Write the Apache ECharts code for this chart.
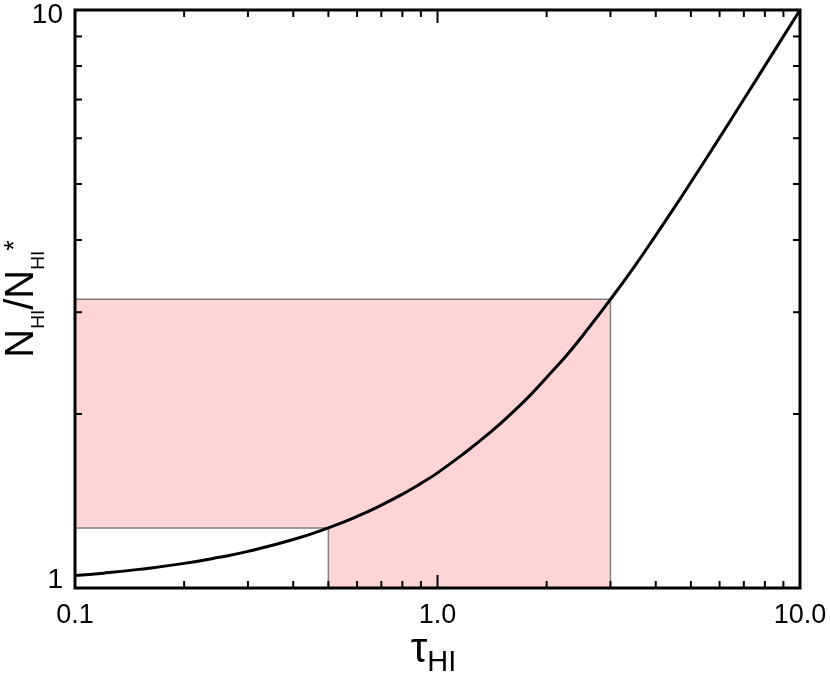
<!DOCTYPE html>
<html>
<head>
<meta charset="utf-8">
<script src="https://cdn.jsdelivr.net/npm/echarts@6/dist/echarts.min.js"></script>
<style>
html, body { margin: 0; padding: 0; background: #fff; }
#cht { width: 830px; height: 695px; }
</style>
</head>
<body>
<div id="cht"></div>
<script>
// curve N_HI / N_HI* against tau_HI
var tau   = [0.1, 0.12, 0.15, 0.2, 0.25, 0.3, 0.4, 0.5, 0.6, 0.7, 0.8, 0.9, 1.0, 1.2, 1.4, 1.6, 1.8, 2.0, 2.3, 2.6, 3.0, 3.5, 4.0, 4.5, 5.0, 6.0, 7.0, 8.0, 9.0, 10.0];
var ratio = [1.051, 1.061, 1.077, 1.103, 1.130, 1.157, 1.213, 1.271, 1.330, 1.391, 1.453, 1.517, 1.582, 1.721, 1.860, 2.005, 2.154, 2.313, 2.551, 2.807, 3.157, 3.606, 4.075, 4.550, 5.034, 6.015, 7.006, 8.003, 9.001, 10.0];

// shaded L-shaped region (corners, in data units)
var regionX = [0.1, 0.5, 0.5, 3.0, 3.0, 0.1];
var regionY = [1.27, 1.27, 1.0, 1.0, 3.16, 3.16];

// tick positions
var xMinorTicks = [0.2, 0.3, 0.4, 0.5, 0.6, 0.7, 0.8, 0.9, 2, 3, 4, 5, 6, 7, 8, 9];
var xMajorTicks = [1];
var yMinorTicks = [2, 3, 4, 5, 6, 7, 8, 9];

var FONT = "'Liberation Sans', Arial, sans-serif";

function xTicks(len) {
    return function (params, api) {
        var cs = params.coordSys;
        var x = api.coord([api.value(0), 1])[0];
        var st = { stroke: '#000', lineWidth: 2 };
        return { type: 'group', children: [
            { type: 'line', shape: { x1: x, y1: cs.y + cs.height, x2: x, y2: cs.y + cs.height - len }, style: st },
            { type: 'line', shape: { x1: x, y1: cs.y, x2: x, y2: cs.y + len }, style: st }
        ]};
    };
}

function yTicks(len) {
    return function (params, api) {
        var cs = params.coordSys;
        var y = api.coord([0.1, api.value(1)])[1];
        var st = { stroke: '#000', lineWidth: 2 };
        return { type: 'group', children: [
            { type: 'line', shape: { x1: cs.x, y1: y, x2: cs.x + len, y2: y }, style: st },
            { type: 'line', shape: { x1: cs.x + cs.width, y1: y, x2: cs.x + cs.width - len, y2: y }, style: st }
        ]};
    };
}

var config = {
    backgroundColor: '#fff',
    animation: false,
    grid: {
        left: 75, right: 30, top: 10, bottom: 107,
        outerBoundsMode: 'none',
        containLabel: false,
        show: true, borderColor: '#000', borderWidth: 3, z: 5
    },
    xAxis: {
        type: 'log', logBase: 10, min: 0.1, max: 10,
        axisLine: { show: false },
        axisTick: { show: false },
        splitLine: { show: false },
        axisLabel: {
            margin: 14, color: '#000', fontFamily: FONT, fontSize: 27,
            formatter: function (v) { return v.toFixed(1); }
        },
        name: '{t|τ}{s|HI}',
        nameLocation: 'middle',
        nameGap: 41,
        nameMoveOverlap: false,
        nameTextStyle: {
            padding: [0, 8, 0, 0],
            rich: {
                t: { fontFamily: FONT, fontSize: 42, color: '#000', lineHeight: 44, verticalAlign: 'top' },
                s: { fontFamily: FONT, fontSize: 29, color: '#000', lineHeight: 48, verticalAlign: 'bottom' }
            }
        }
    },
    yAxis: {
        type: 'log', logBase: 10, min: 1, max: 10,
        axisLine: { show: false },
        axisTick: { show: false },
        splitLine: { show: false },
        axisLabel: {
            margin: 12, color: '#000', fontFamily: FONT, fontSize: 28,
            formatter: function (v) {
                var n = Math.round(v);
                return n === 10 ? '{hi|10}' : '{lo|' + n + '}';
            },
            rich: {
                hi: { fontFamily: FONT, fontSize: 28, color: '#000', padding: [10, 0, 0, 0] },
                lo: { fontFamily: FONT, fontSize: 28, color: '#000', padding: [0, 0, 16, 0] }
            }
        },
        name: '{n|N}{s|HI}{n|/N}{s|HI}{p|*}',
        nameLocation: 'middle',
        nameRotate: 90,
        nameGap: 27,
        nameMoveOverlap: false,
        nameTextStyle: {
            rich: {
                n: { fontFamily: FONT, fontSize: 40, color: '#000', lineHeight: 42, verticalAlign: 'top' },
                s: { fontFamily: FONT, fontSize: 19, color: '#000', lineHeight: 46, verticalAlign: 'bottom' },
                p: { fontFamily: FONT, fontSize: 27, color: '#000', lineHeight: 27, verticalAlign: 'top' }
            }
        }
    },
    series: [
        {
            type: 'custom',
            z: 1,
            silent: true,
            data: [[regionX[0], regionY[0]]],
            renderItem: function (params, api) {
                var pts = regionX.map(function (x, i) { return api.coord([x, regionY[i]]); });
                return {
                    type: 'polygon',
                    shape: { points: pts },
                    style: { fill: '#fed4d5', stroke: '#808080', lineWidth: 1.5 }
                };
            }
        },
        {
            type: 'line',
            z: 3,
            data: tau.map(function (t, i) { return [t, ratio[i]]; }),
            smooth: true,
            showSymbol: false,
            lineStyle: { color: '#000', width: 3 }
        },
        {
            type: 'custom', z: 6, silent: true,
            data: xMinorTicks.map(function (v) { return [v, 1]; }),
            renderItem: xTicks(7)
        },
        {
            type: 'custom', z: 6, silent: true,
            data: xMajorTicks.map(function (v) { return [v, 1]; }),
            renderItem: xTicks(13)
        },
        {
            type: 'custom', z: 6, silent: true,
            data: yMinorTicks.map(function (v) { return [0.1, v]; }),
            renderItem: yTicks(7)
        }
    ]
};

window.onload = function () {
    var myChart = echarts.init(document.getElementById('cht'));
    myChart.setOption(config);
};
</script>
</body>
</html>
